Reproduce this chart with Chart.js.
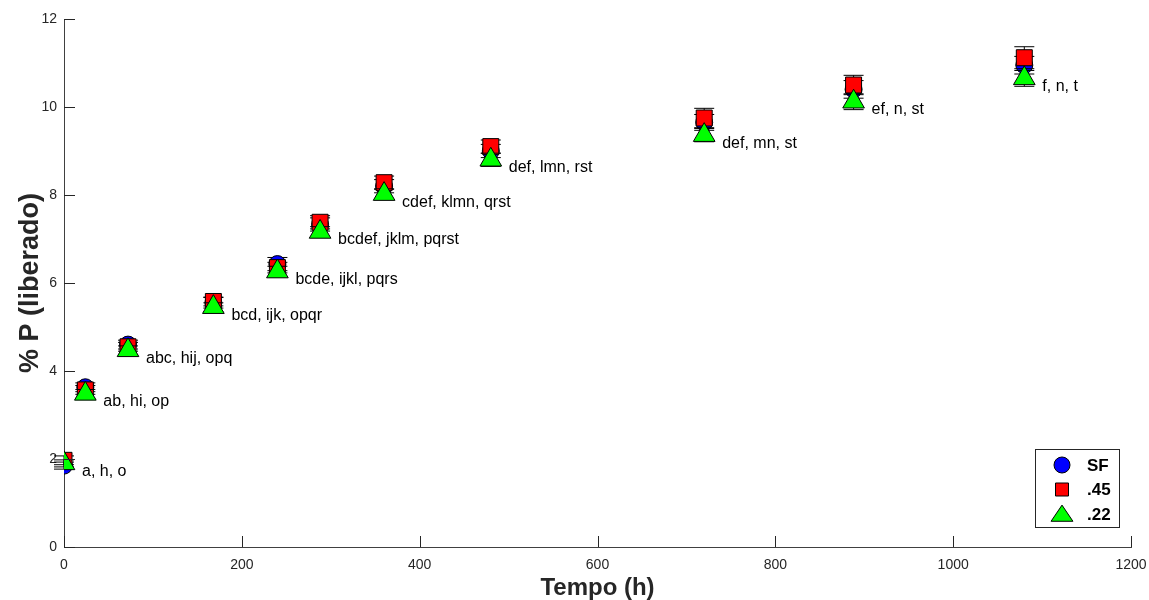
<!DOCTYPE html>
<html>
<head>
<meta charset="utf-8">
<script src="https://cdn.jsdelivr.net/npm/chart.js@4/dist/chart.umd.min.js"></script>
<style>
  html, body { margin: 0; padding: 0; background: #fff; }
  #wrap { width: 1149px; height: 600px; }
</style>
</head>
<body>
<div id="wrap"><canvas id="grafico"></canvas></div>
<script>
// tempos de amostragem (h)
const tempo = [0, 24, 72, 168, 240, 288, 360, 480, 720, 888, 1080];

// % P liberado por tratamento
const sf  = [1.85, 3.63, 4.60, 5.55, 6.43, 7.33, 8.20, 9.00, 9.65, 10.40, 10.95];
const p45 = [1.97, 3.57, 4.55, 5.58, 6.35, 7.38, 8.28, 9.10, 9.75, 10.50, 11.12];
const p22 = [1.90, 3.48, 4.47, 5.45, 6.26, 7.16, 8.02, 8.80, 9.36, 10.12, 10.65];

// desvios (barras de erro)
const sfErr  = [0.08, 0.10, 0.10, 0.12, 0.15, 0.15, 0.15, 0.15, 0.18, 0.20, 0.20];
const p45Err = [0.10, 0.10, 0.10, 0.10, 0.12, 0.15, 0.15, 0.15, 0.22, 0.22, 0.25];
const p22Err = [0.08, 0.10, 0.10, 0.10, 0.12, 0.12, 0.12, 0.15, 0.15, 0.18, 0.18];

// letras de significancia
const letras = ["a, h, o", "ab, hi, op", "abc, hij, opq", "bcd, ijk, opqr", "bcde, ijkl, pqrs",
                "bcdef, jklm, pqrst", "cdef, klmn, qrst", "def, lmn, rst", "def, mn, st",
                "ef, n, st", "f, n, t"];

const nomes = ["SF", ".45", ".22"];
const eixoX = { min: 0, max: 1200, passo: 200 };
const eixoY = { min: 0, max: 12, passo: 2 };

const FONTE = "'Liberation Sans', Arial, sans-serif";
const CINZA = "#262626";

function pontos(ys) {
    return tempo.map((t, i) => ({ x: t, y: ys[i] }));
}

// barras de erro desenhadas antes de cada serie (como no MATLAB)
const barrasErro = {
    id: "barrasErro",
    beforeDatasetDraw(chart, args) {
        const ds = chart.data.datasets[args.index];
        if (!ds.erros) return;
        const ctx = chart.ctx;
        const xs = chart.scales.x, ys = chart.scales.y;
        ctx.save();
        ctx.strokeStyle = "#000";
        ctx.lineWidth = 1;
        ds.data.forEach((p, i) => {
            const px = xs.getPixelForValue(p.x);
            const y1 = ys.getPixelForValue(p.y + ds.erros[i]);
            const y2 = ys.getPixelForValue(p.y - ds.erros[i]);
            ctx.beginPath();
            ctx.moveTo(px, y1); ctx.lineTo(px, y2);
            ctx.moveTo(px - 10, y1); ctx.lineTo(px + 10, y1);
            ctx.moveTo(px - 10, y2); ctx.lineTo(px + 10, y2);
            ctx.stroke();
        });
        ctx.restore();
    }
};

function marcador(ctx, tipo, x, y, r, cor) {
    ctx.beginPath();
    if (tipo === "circle") {
        ctx.arc(x, y, r, 0, Math.PI * 2);
    } else if (tipo === "rect") {
        ctx.rect(x - r, y - r, 2 * r, 2 * r);
    } else {
        const h = r * 1.7;
        ctx.moveTo(x, y - h * 0.55);
        ctx.lineTo(x + r * 1.15, y + h * 0.45);
        ctx.lineTo(x - r * 1.15, y + h * 0.45);
        ctx.closePath();
    }
    ctx.fillStyle = cor;
    ctx.fill();
    ctx.strokeStyle = "#000";
    ctx.lineWidth = 1;
    ctx.stroke();
}

// ticks para dentro, letras e legenda
const extras = {
    id: "extras",
    afterDraw(chart) {
        const ctx = chart.ctx;
        const xs = chart.scales.x, ys = chart.scales.y;
        const a = chart.chartArea;
        ctx.save();
        ctx.strokeStyle = CINZA;
        ctx.lineWidth = 1;
        ctx.beginPath();
        for (let v = eixoX.min; v <= eixoX.max; v += eixoX.passo) {
            const px = Math.round(xs.getPixelForValue(v)) + 0.5;
            ctx.moveTo(px, a.bottom); ctx.lineTo(px, a.bottom - 11);
        }
        for (let v = eixoY.min; v <= eixoY.max; v += eixoY.passo) {
            const py = Math.round(ys.getPixelForValue(v)) + 0.5;
            ctx.moveTo(a.left, py); ctx.lineTo(a.left + 11, py);
        }
        ctx.stroke();

        // letras ao lado do triangulo
        ctx.fillStyle = "#000";
        ctx.font = "16px " + FONTE;
        ctx.textBaseline = "middle";
        ctx.textAlign = "left";
        letras.forEach((txt, i) => {
            const px = xs.getPixelForValue(tempo[i]);
            const py = ys.getPixelForValue(p22[i]);
            ctx.fillText(txt, px + 18, py + 8);
        });

        // legenda
        const bx = a.right - 96, by = a.bottom - 98, bw = 84, bh = 78;
        ctx.fillStyle = "#fff";
        ctx.fillRect(bx, by, bw, bh);
        ctx.strokeStyle = "#262626";
        ctx.strokeRect(bx + 0.5, by + 0.5, bw, bh);
        const cores = ["#0000ff", "#ff0000", "#00ff00"];
        const tipos = ["circle", "rect", "triangle"];
        const tam = [8, 6.5, 9.5];
        ctx.font = "bold 17px " + FONTE;
        nomes.forEach((n, i) => {
            const cy = by + 16 + i * 24.5;
            marcador(ctx, tipos[i], bx + 27, cy, tam[i], cores[i]);
            ctx.fillStyle = "#000";
            ctx.fillText(n, bx + 52, cy + 1);
        });
        ctx.restore();
    }
};

new Chart(document.getElementById("grafico"), {
    type: "scatter",
    data: {
        datasets: [
            { label: nomes[0], data: pontos(sf), erros: sfErr, order: 3, pointStyle: "circle", pointRadius: 8.5,
              backgroundColor: "#0000ff", borderColor: "#000", pointBorderWidth: 1 },
            { label: nomes[1], data: pontos(p45), erros: p45Err, order: 2, pointStyle: "rect", pointRadius: 11.3,
              backgroundColor: "#ff0000", borderColor: "#000", pointBorderWidth: 1 },
            { label: nomes[2], data: pontos(p22), erros: p22Err, order: 1, pointStyle: "triangle", pointRadius: 12.5,
              backgroundColor: "#00ff00", borderColor: "#000", pointBorderWidth: 1 }
        ]
    },
    options: {
        responsive: true,
        maintainAspectRatio: false,
        animation: false,
        layout: { padding: { top: 19, right: 18, left: 0, bottom: 0 } },
        plugins: { legend: { display: false }, tooltip: { enabled: false } },
        scales: {
            x: {
                type: "linear",
                min: eixoX.min, max: eixoX.max,
                ticks: { stepSize: eixoX.passo, color: CINZA, font: { family: FONTE, size: 14 }, padding: 10, maxRotation: 0,
                         callback: v => String(v) },
                grid: { drawOnChartArea: false, drawTicks: false },
                border: { color: "#404040" },
                title: { display: true, text: "Tempo (h)", color: CINZA,
                         font: { family: FONTE, size: 24, weight: "bold", lineHeight: 1 }, padding: { top: 0, bottom: 0 } },
                afterFit(s) { s.height = 53; s.paddingLeft = 0; s.paddingRight = 0; }
            },
            y: {
                min: eixoY.min, max: eixoY.max,
                ticks: { stepSize: eixoY.passo, color: CINZA, font: { family: FONTE, size: 14 }, padding: 7,
                         callback: v => String(v) },
                grid: { drawOnChartArea: false, drawTicks: false },
                border: { color: "#404040" },
                title: { display: true, text: "% P (liberado)", color: CINZA,
                         font: { family: FONTE, size: 27, weight: "bold", lineHeight: 1 }, padding: { top: 17, bottom: 0 } },
                afterFit(s) { s.width = 64; }
            }
        }
    },
    plugins: [barrasErro, extras]
});
</script>
</body>
</html>
